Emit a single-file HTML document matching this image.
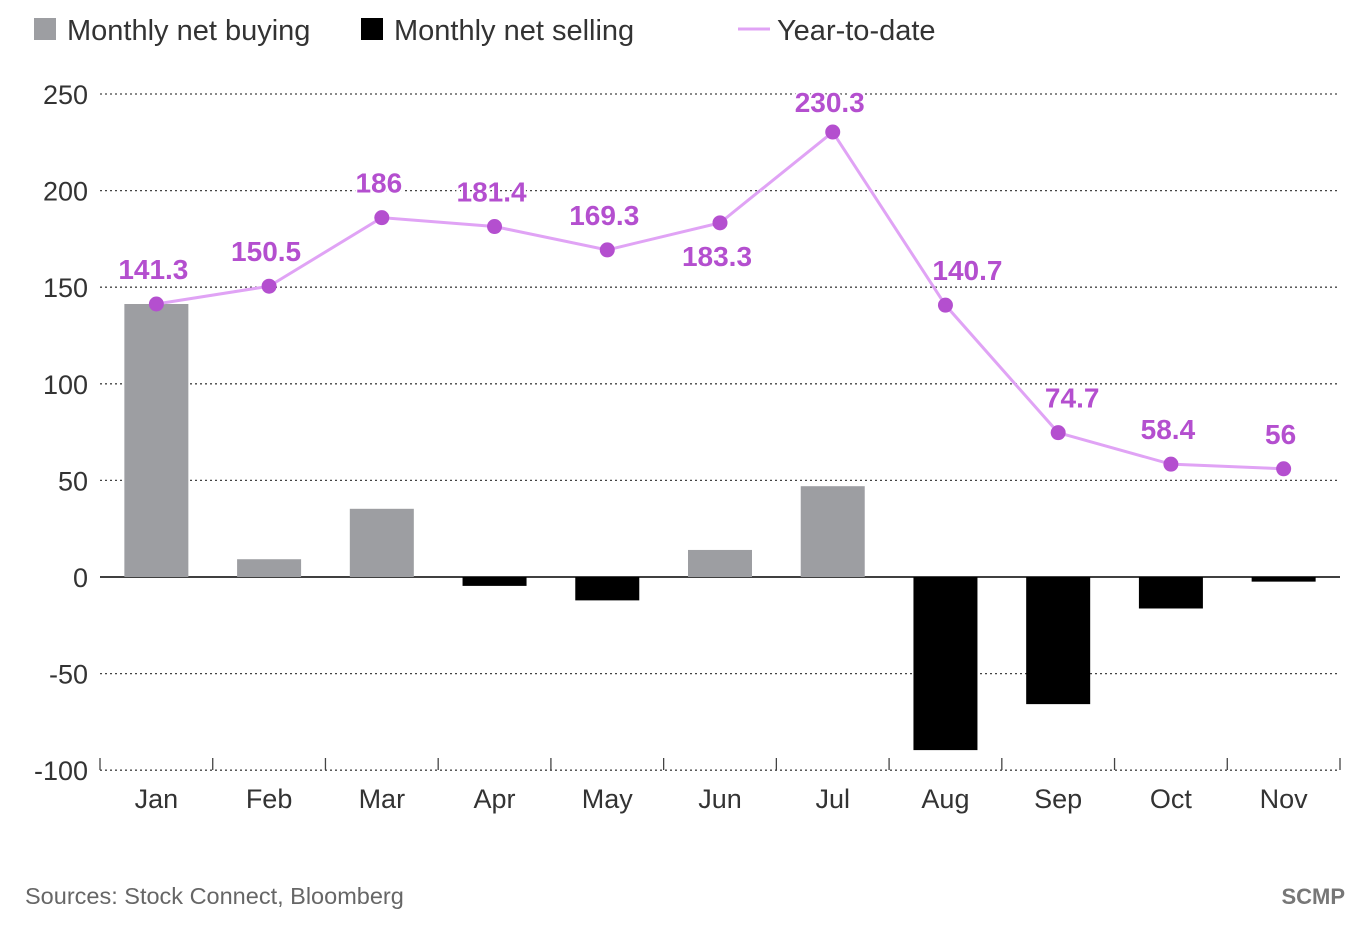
<!DOCTYPE html>
<html><head><meta charset="utf-8">
<style>
html,body{margin:0;padding:0;background:#fff;}
body{width:1370px;height:939px;overflow:hidden;font-family:"Liberation Sans",sans-serif;}
</style></head>
<body>
<svg id="chart" width="1370" height="939" xmlns="http://www.w3.org/2000/svg" font-family="Liberation Sans, sans-serif">
  <g>
    <rect x="34" y="18" width="22" height="22" fill="#9d9ea2"/>
    <text x="67" y="40" font-size="29" fill="#333">Monthly net buying</text>
    <rect x="361" y="18" width="22" height="22" fill="#000"/>
    <text x="394" y="40" font-size="29" fill="#333">Monthly net selling</text>
    <line x1="738" y1="29" x2="770" y2="29" stroke="#e0a3f5" stroke-width="3"/>
    <text x="777" y="40" font-size="29" fill="#333">Year-to-date</text>
  </g>
  <g id="grid"></g>
  <g id="bars"></g>
  <g id="line"></g>
  <g id="xaxis"></g>
  <text x="25" y="904" font-size="23.5" fill="#666">Sources: Stock Connect, Bloomberg</text>
  <text x="1345" y="904" font-size="22" fill="#777" font-weight="bold" text-anchor="end">SCMP</text>
</svg>
<script>
const categories = ["Jan","Feb","Mar","Apr","May","Jun","Jul","Aug","Sep","Oct","Nov"];
const monthlyValues = [141.3, 9.2, 35.3, -4.6, -12.1, 14.0, 47.0, -89.6, -65.8, -16.3, -2.4];
const ytdValues = [141.3, 150.5, 186, 181.4, 169.3, 183.3, 230.3, 140.7, 74.7, 58.4, 56];
const yTicks = [250, 200, 150, 100, 50, 0, -50, -100];

const NS = "http://www.w3.org/2000/svg";
const plotL = 100, plotR = 1340;
const bandW = (plotR - plotL) / categories.length;
function xC(i){ return plotL + bandW * (i + 0.5); }
function y(v){ return 577 - v * 1.932; }
function mk(tag, attrs, parent){
  const e = document.createElementNS(NS, tag);
  for (const k in attrs) e.setAttribute(k, attrs[k]);
  parent.appendChild(e); return e;
}
const grid = document.getElementById("grid");
yTicks.forEach(t => {
  const yy = y(t);
  const ln = mk("line", {x1: plotL, x2: plotR, y1: yy, y2: yy, stroke: t === 0 ? "#000" : "#444",
    "stroke-width": t === 0 ? 1.5 : 1.3, "stroke-dasharray": t === 0 ? "none" : "2,3"}, grid);
  
  
  const tx = mk("text", {x: 88, y: yy + 10, "font-size": 27, fill: "#333", "text-anchor": "end"}, grid);
  tx.textContent = t;
  
  
});
const bars = document.getElementById("bars");
monthlyValues.forEach((v, i) => {
  const top = Math.min(y(v), y(0)), h = Math.abs(y(v) - y(0));
  const r = mk("rect", {x: xC(i) - 32, y: top, width: 64, height: h, fill: v >= 0 ? "#9d9ea2" : "#000"}, bars);
  
  
});
const xa = document.getElementById("xaxis");
for (let i = 0; i <= categories.length; i++) {
  const xx = plotL + bandW * i;
  const tk = mk("line", {x1: xx, x2: xx, y1: 758, y2: 770, stroke: "#444", "stroke-width": 1.3}, xa);
  
  
}
categories.forEach((c, i) => {
  const t = mk("text", {x: xC(i), y: 808, "font-size": 27, fill: "#333", "text-anchor": "middle"}, xa);
  t.textContent = c;
  
  
});
const lg = document.getElementById("line");
const pts = ytdValues.map((v, i) => xC(i) + "," + y(v)).join(" ");
const pl = mk("polyline", {points: pts, fill: "none", stroke: "#e0a3f5", "stroke-width": 3}, lg);


ytdValues.forEach((v, i) => {
  const cx = xC(i), cy = y(v);
  const c = mk("circle", {cx: cx, cy: cy, r: 7.5, fill: "#b44fcf"}, lg);
  
  
  let lx = cx - 3, ly = cy - 25;
  if (i === 5) { ly = cy + 43; }
  if (i === 6) { ly = cy - 20; }
  if (i === 7) { lx = cx + 22; ly = cy - 25; }
  if (i === 8) { lx = cx + 14; }
  const t = mk("text", {x: lx, y: ly, "font-size": 28, "font-weight": "bold", fill: "#b44fcf", "text-anchor": "middle",
    stroke: "#fff", "stroke-width": 4, "paint-order": "stroke"}, lg);
  t.textContent = v;
  
  
});
</script>
</body></html>
